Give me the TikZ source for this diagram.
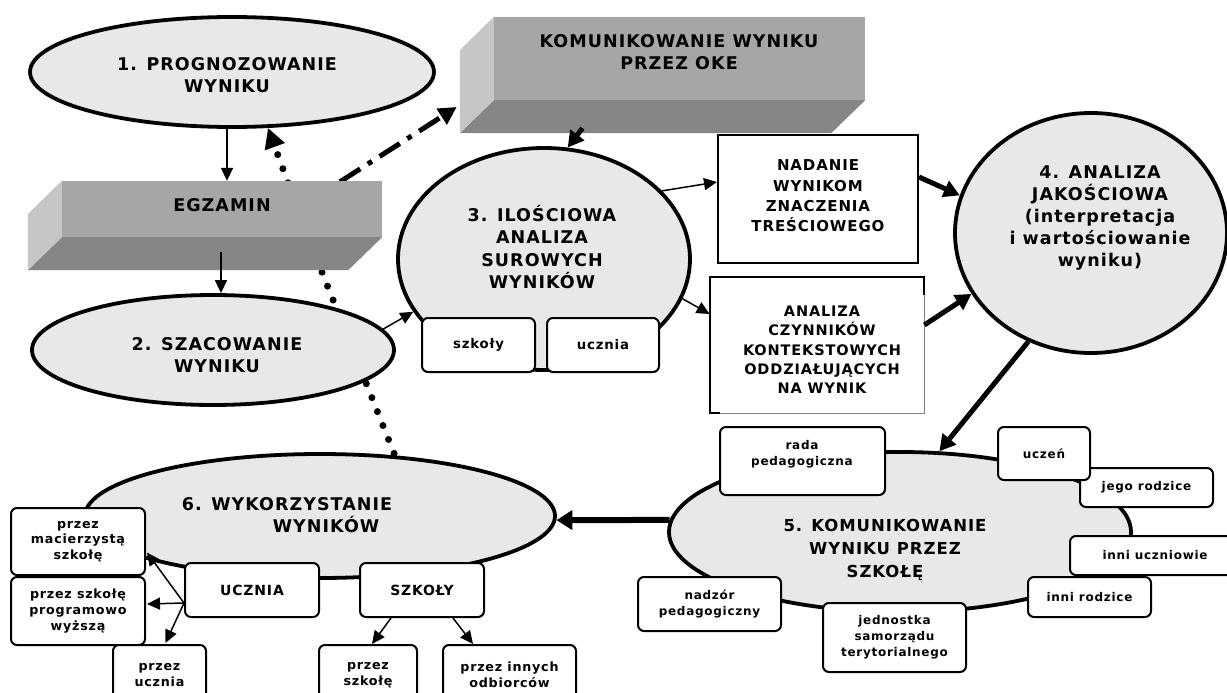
\documentclass[tikz,border=0pt]{standalone}
\usepackage{fontspec}
\setmainfont{DejaVu Sans}[LetterSpace=6]
\usetikzlibrary{shapes.geometric,arrows.meta,calc}
\definecolor{ellfill}{HTML}{E8E8E8}
\definecolor{barfront}{HTML}{A6A6A6}
\definecolor{barbottom}{HTML}{868686}
\definecolor{barside}{HTML}{C6C6C6}
\pgfdeclarelayer{background}
\pgfsetlayers{background,main}
\begin{document}
\begin{tikzpicture}[x=1pt,y=-1pt,
  ell/.style={ellipse, draw=black, line width=3.8pt, fill=ellfill, inner sep=0pt},
  bar/.style={fill=barfront, inner sep=0pt},
  bigtxt/.style={font=\bfseries\fontsize{17.5}{22.5}\selectfont, align=center, inner sep=0pt},
  midtxt/.style={font=\bfseries\fontsize{15}{20.3}\selectfont, align=center, inner sep=0pt},
  anatxt/.style={font=\bfseries\fontsize{14.5}{19.3}\selectfont, align=center, inner sep=0pt},
  smalltxt/.style={font=\bfseries\fontsize{12}{16}\selectfont, align=center, inner sep=0pt},
  rbox/.style={draw=black, line width=2pt, rounded corners=6pt, fill=white, align=center, inner sep=0pt, font=\bfseries\fontsize{12}{16}\selectfont},
  rboxs/.style={rbox, font=\bfseries\fontsize{12.7}{15.8}\selectfont},
  rboxb/.style={rbox, font=\bfseries\fontsize{14}{18}\selectfont},
  rboxm/.style={rbox, font=\bfseries\fontsize{13.3}{17}\selectfont},
  thinarr/.style={line width=1.5pt, -{Triangle[length=13pt,width=12pt]}},
  thickarr/.style={line width=5pt, -{Triangle[length=16pt,width=17pt]}},
  dotarr/.style={line width=7pt, line cap=round, dash pattern=on 0pt off 15pt, -{Triangle[length=20pt,width=20pt]}},
  dotline/.style={line width=7pt, line cap=round, dash pattern=on 0pt off 15pt},
  dashdotarr/.style={line width=5pt, dash pattern=on 24pt off 9pt on 5pt off 9pt, -{Triangle[length=18pt,width=18pt]}}
]
\useasboundingbox (0,0) rectangle (1227,693);

% ellipses
\node[ell, minimum width=404pt, minimum height=110pt] (e1) at (232,72) {};
\node[ell, minimum width=362pt, minimum height=110pt] (e2) at (213,350) {};
\node[ell, minimum width=292pt, minimum height=222pt] (e3) at (544,259) {};
\node[ell, minimum width=272pt, minimum height=240pt] (e4) at (1091,233) {};
\node[ell, minimum width=462pt, minimum height=160pt] (e5) at (900,532) {};
\node[ell, minimum width=470pt, minimum height=124pt] (e6) at (320,516) {};

% 3D bars
\node[bar, minimum width=320pt, minimum height=56pt] (egz) at (222,209) {};
\fill[barbottom] (egz.south west) -- (egz.south east) -- ++(-34,33) -- ($(egz.south west)+(-34,33)$) -- cycle;
\fill[barside] (egz.north west) -- (egz.south west) -- ++(-34,33) -- ++(0,-56) -- cycle;
\node[bar, minimum width=371pt, minimum height=83pt] (oke) at (679.5,58.5) {};
\fill[barbottom] (oke.south west) -- (oke.south east) -- ++(-34,33) -- ($(oke.south west)+(-34,33)$) -- cycle;
\fill[barside] (oke.north west) -- (oke.south west) -- ++(-34,33) -- ++(0,-83) -- cycle;

% rectangles
\node[draw=black, line width=2pt, fill=white, minimum width=200pt, minimum height=128pt] (nad) at (818,199) {};
\node[draw=gray, line width=0.8pt, fill=white, minimum width=214pt, minimum height=136pt] (ana) at (817,345) {};
\draw[line width=2pt] ($(ana.south west)+(10,0)$) -- (ana.south west) -- (ana.north west) -- (ana.north east) -- ($(ana.north east)+(0,18)$);

% boxes of 3
\node[rboxm, minimum width=113pt, minimum height=54pt] (s3) at (478.5,345) {szkoły};
\node[rboxm, minimum width=112pt, minimum height=54pt] (u3) at (603,345) {ucznia};

% boxes of 5
\node[rbox, minimum width=165pt, minimum height=68pt] (rada) at (802.5,461) {};
\node[rbox, minimum width=133pt, minimum height=39pt] (jego) at (1146.5,487.5) {jego rodzice};
\node[rbox, minimum width=92pt, minimum height=53pt] (ucz) at (1044,453.5) {uczeń};
\node[rbox, minimum width=170pt, minimum height=39pt] (innu) at (1155,555.5) {inni uczniowie};
\node[rbox, minimum width=123pt, minimum height=40pt] (innr) at (1089.5,597) {inni rodzice};
\node[rbox, minimum width=143pt, minimum height=69pt] (jedn) at (894.5,637.5) {jednostka\\samorządu\\terytorialnego};
\node[rbox, minimum width=143pt, minimum height=54pt] (nadz) at (709.5,604) {nadzór\\pedagogiczny};

% boxes of 6
\node[rboxs, minimum width=134pt, minimum height=67pt] (maci) at (78,541.5) {przez\\macierzystą\\szkołę};
\node[rboxs, minimum width=134pt, minimum height=68pt] (prog) at (78,611) {przez szkołę\\programowo\\wyższą};
\node[rboxs, minimum width=93pt, minimum height=60pt] (pucz) at (159.5,675) {przez\\ucznia};
\node[rboxb, minimum width=134pt, minimum height=54pt] (UCZ) at (252,590) {UCZNIA};
\node[rboxb, minimum width=124pt, minimum height=54pt] (SZK) at (422,590) {SZKOŁY};
\node[rboxs, minimum width=98pt, minimum height=60pt] (pszk) at (368,675) {przez\\szkołę};
\node[rboxs, minimum width=133pt, minimum height=60pt] (pinn) at (509.5,675) {przez innych\\odbiorców};

% texts
\node[bigtxt] (e1t) at (227,75) {1. PROGNOZOWANIE\\WYNIKU};
\node[bigtxt] (e2t) at (217,355) {2. SZACOWANIE\\WYNIKU};
\node[bigtxt] (e3t) at (542,247) {3. ILOŚCIOWA\\ANALIZA\\SUROWYCH\\WYNIKÓW};
\node[bigtxt, font=\bfseries\fontsize{17.5}{21.8}\selectfont] (e4t) at (1100,218) {4. ANALIZA\\JAKOŚCIOWA\\(interpretacja\\i wartościowanie\\wyniku)};
\node[bigtxt, font=\bfseries\fontsize{16.5}{23}\selectfont] (e5t) at (885,550) {5. KOMUNIKOWANIE\\WYNIKU PRZEZ\\SZKOŁĘ};
\node[bigtxt, align=left] (e6t) at (287,515) {6. WYKORZYSTANIE\\\hspace*{91pt}WYNIKÓW};
\node[bigtxt] (egzt) at (222,205) {EGZAMIN};
\node[bigtxt] (oket) at (679,52) {KOMUNIKOWANIE WYNIKU\\PRZEZ OKE};
\node[midtxt] (nadt) at (818,196) {NADANIE\\WYNIKOM\\ZNACZENIA\\TREŚCIOWEGO};
\node[anatxt] (anat) at (822,350) {ANALIZA\\CZYNNIKÓW\\KONTEKSTOWYCH\\ODDZIAŁUJĄCYCH\\NA WYNIK};
\node[smalltxt] (radat) at (802,454) {rada\\pedagogiczna};

% background connectors
\begin{pgfonlayer}{background}
\fill[white] (0,0) rectangle (1227,693);
\draw[dotline] ($(egz.south)+(100,35)$) -- (e6.39);
\draw[dotarr] ($(egz.north)+(66,2)$) -- ($(e1.south)+(36,-1)$);
\draw[dashdotarr] ($(egz.north)+(118,1)$) -- ($(oke.west)+(-37,48.5)$);
\end{pgfonlayer}

% connectors
\draw[thinarr] ($(e1.south)+(-5,0)$) -- ($(egz.north)+(5,0)$);
\draw[thinarr] ($(egz.south)+(-1,15)$) -- ($(e2.north)+(8,0)$);
\draw[thinarr] (e2.7) -- (e3.202);
\draw[thickarr] ($(oke.south)+(-97,28)$) -- (e3.78);
\draw[thinarr] (e3.30) -- ($(nad.west)+(0,-17)$);
\draw[thinarr] (e3.-16) -- ($(ana.west)+(0,-31)$);
\draw[thickarr] ($(nad.east)+(0,-22)$) -- (e4.164);
\draw[thickarr] ($(ana.east)+(0,-20)$) -- (e4.207);
\draw[thickarr] (e4.240) -- (e5.64);
\draw[line width=6pt, -{Triangle[length=16pt,width=19pt]}] (e5.177.5) -- (e6.-1.5);
\draw[thinarr] ($(UCZ.west)+(0,13)$) -- ($(maci.east)+(1,11)$);
\draw[thinarr] ($(UCZ.west)+(0,13)$) -- ($(prog.east)+(1,-7)$);
\draw[thinarr] ($(UCZ.west)+(0,13)$) -- ($(pucz.north)+(6,-1)$);
\draw[thinarr] ($(SZK.south)+(-31,0)$) -- ($(pszk.north)+(4,0)$);
\draw[thinarr] ($(SZK.south)+(31,0)$) -- ($(pinn.north)+(-36.5,0)$);
\end{tikzpicture}
\end{document}
